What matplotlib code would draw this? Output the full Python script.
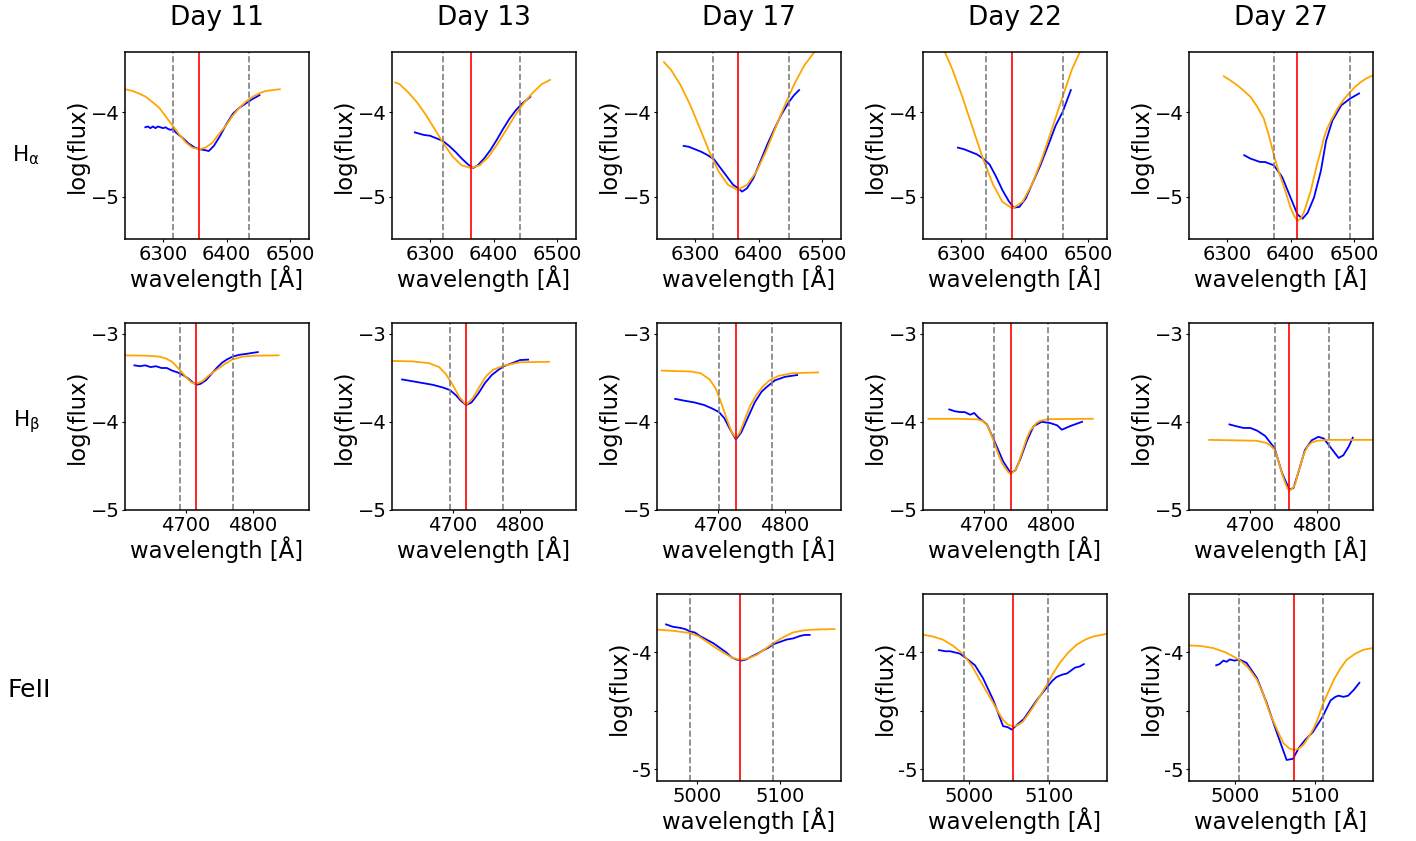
import matplotlib
matplotlib.use("Agg")
import matplotlib.pyplot as plt

# ---- H alpha row ----
ha_days = [11, 13, 17, 22, 27]
ha_centre = [6356, 6364, 6367, 6381, 6411]
ha_lo = [6315, 6321, 6328, 6340, 6374]
ha_hi = [6436, 6441, 6448, 6460, 6494]

ha11_obs_wl = [6272, 6276, 6280, 6284, 6288, 6292, 6296, 6300, 6304, 6308, 6312, 6316, 6320, 6330, 6340, 6350, 6358, 6366, 6372, 6380, 6390, 6400, 6410, 6420, 6430, 6440, 6452]
ha11_obs = [-4.18, -4.17, -4.19, -4.17, -4.19, -4.17, -4.18, -4.19, -4.18, -4.20, -4.21, -4.20, -4.24, -4.30, -4.37, -4.42, -4.44, -4.45, -4.46, -4.40, -4.28, -4.14, -4.02, -3.95, -3.90, -3.85, -3.80]
ha11_fit_wl = [6240, 6252, 6262, 6273, 6283, 6294, 6304, 6315, 6325, 6336, 6346, 6357, 6367, 6378, 6388, 6399, 6409, 6420, 6430, 6441, 6451, 6462, 6484]
ha11_fit = [-3.73, -3.75, -3.78, -3.82, -3.88, -3.95, -4.05, -4.16, -4.26, -4.36, -4.42, -4.44, -4.42, -4.36, -4.26, -4.16, -4.05, -3.95, -3.88, -3.82, -3.78, -3.75, -3.73]

ha13_obs_wl = [6276, 6290, 6300, 6310, 6320, 6330, 6340, 6350, 6360, 6368, 6375, 6385, 6395, 6405, 6415, 6425, 6435, 6445, 6458]
ha13_obs = [-4.24, -4.27, -4.28, -4.31, -4.34, -4.40, -4.47, -4.55, -4.62, -4.66, -4.63, -4.55, -4.45, -4.33, -4.20, -4.08, -3.98, -3.90, -3.82]
ha13_fit_wl = [6245, 6252, 6266, 6280, 6294, 6308, 6322, 6336, 6350, 6364, 6378, 6392, 6406, 6420, 6434, 6448, 6462, 6476, 6489]
ha13_fit = [-3.65, -3.67, -3.77, -3.89, -4.04, -4.21, -4.38, -4.53, -4.63, -4.66, -4.63, -4.53, -4.38, -4.21, -4.04, -3.89, -3.77, -3.67, -3.62]

ha17_obs_wl = [6282, 6290, 6300, 6310, 6320, 6330, 6340, 6350, 6360, 6368, 6374, 6382, 6392, 6402, 6414, 6425, 6436, 6448, 6456, 6464]
ha17_obs = [-4.40, -4.41, -4.44, -4.47, -4.51, -4.56, -4.66, -4.76, -4.86, -4.90, -4.94, -4.90, -4.78, -4.60, -4.38, -4.20, -4.03, -3.88, -3.80, -3.74]
ha17_fit_wl = [6251, 6262, 6277, 6292, 6307, 6322, 6337, 6352, 6367, 6382, 6397, 6412, 6427, 6442, 6457, 6472, 6487, 6502]
ha17_fit = [-3.41, -3.50, -3.68, -3.91, -4.18, -4.46, -4.70, -4.86, -4.92, -4.86, -4.70, -4.46, -4.18, -3.91, -3.66, -3.45, -3.30, -3.20]

ha22_obs_wl = [6295, 6305, 6315, 6325, 6335, 6345, 6355, 6365, 6375, 6383, 6392, 6402, 6412, 6425, 6437, 6449, 6460, 6473]
ha22_obs = [-4.42, -4.44, -4.47, -4.50, -4.55, -4.62, -4.76, -4.92, -5.05, -5.13, -5.12, -5.02, -4.85, -4.63, -4.40, -4.16, -4.00, -3.74]
ha22_fit_wl = [6255, 6271, 6286, 6302, 6318, 6334, 6350, 6365, 6381, 6397, 6412, 6428, 6444, 6460, 6475, 6491, 6507]
ha22_fit = [-3.03, -3.23, -3.49, -3.82, -4.18, -4.54, -4.85, -5.06, -5.14, -5.06, -4.85, -4.54, -4.18, -3.82, -3.49, -3.23, -3.03]

ha27_obs_wl = [6327, 6337, 6352, 6360, 6374, 6387, 6400, 6411, 6419, 6427, 6437, 6448, 6456, 6466, 6480, 6494, 6508]
ha27_obs = [-4.51, -4.55, -4.59, -4.59, -4.63, -4.77, -5.01, -5.21, -5.26, -5.19, -5.01, -4.69, -4.34, -4.10, -3.92, -3.84, -3.78]
ha27_fit_wl = [6295, 6305, 6316, 6326, 6337, 6347, 6358, 6366, 6374, 6382, 6390, 6400, 6406, 6411, 6416, 6421, 6426, 6432, 6437, 6442, 6448, 6453, 6458, 6464, 6469, 6474, 6484, 6494, 6502, 6511, 6520, 6530]
ha27_fit = [-3.577, -3.625, -3.683, -3.745, -3.822, -3.93, -4.079, -4.28, -4.514, -4.72, -4.89, -5.127, -5.23, -5.285, -5.26, -5.186, -5.07, -4.929, -4.77, -4.612, -4.45, -4.296, -4.19, -4.098, -4.03, -3.96, -3.85, -3.763, -3.70, -3.644, -3.60, -3.565]

# ---- H beta row ----
hb_centre = [4715, 4720, 4727, 4740, 4759]
hb_lo = [4692, 4696, 4702, 4716, 4737]
hb_hi = [4770, 4775, 4781, 4795, 4817]

hb11_obs_wl = [4624, 4632, 4640, 4648, 4656, 4664, 4672, 4680, 4688, 4696, 4704, 4710, 4716, 4722, 4730, 4738, 4746, 4754, 4762, 4770, 4780, 4790, 4798, 4807]
hb11_obs = [-3.36, -3.37, -3.36, -3.38, -3.37, -3.39, -3.39, -3.42, -3.44, -3.47, -3.51, -3.55, -3.58, -3.57, -3.53, -3.46, -3.39, -3.33, -3.29, -3.26, -3.24, -3.23, -3.22, -3.21]
hb11_fit_wl = [4610, 4640, 4660, 4670, 4680, 4690, 4700, 4708, 4715, 4725, 4735, 4746, 4757, 4769, 4785, 4805, 4838]
hb11_fit = [-3.247, -3.25, -3.26, -3.28, -3.32, -3.40, -3.49, -3.55, -3.572, -3.54, -3.47, -3.41, -3.35, -3.295, -3.26, -3.25, -3.247]

hb13_obs_wl = [4625, 4640, 4655, 4670, 4685, 4696, 4705, 4712, 4720, 4728, 4738, 4748, 4758, 4768, 4776, 4790, 4800, 4812]
hb13_obs = [-3.52, -3.54, -3.56, -3.58, -3.61, -3.64, -3.70, -3.76, -3.81, -3.78, -3.68, -3.56, -3.47, -3.41, -3.37, -3.33, -3.30, -3.295]
hb13_fit_wl = [4610, 4640, 4665, 4680, 4690, 4700, 4710, 4720, 4730, 4740, 4750, 4760, 4775, 4800, 4843]
hb13_fit = [-3.31, -3.315, -3.335, -3.38, -3.46, -3.58, -3.72, -3.807, -3.73, -3.60, -3.48, -3.41, -3.365, -3.325, -3.32]

hb17_obs_wl = [4637, 4650, 4665, 4680, 4692, 4702, 4710, 4718, 4727, 4735, 4745, 4755, 4765, 4772, 4785, 4800, 4818]
hb17_obs = [-3.74, -3.76, -3.78, -3.81, -3.85, -3.89, -3.96, -4.08, -4.20, -4.12, -3.95, -3.78, -3.66, -3.61, -3.53, -3.49, -3.47]
hb17_fit_wl = [4617, 4660, 4675, 4688, 4697, 4706, 4714, 4721, 4727, 4733, 4740, 4748, 4757, 4767, 4777, 4790, 4810, 4849]
hb17_fit = [-3.42, -3.43, -3.45, -3.52, -3.62, -3.80, -3.98, -4.12, -4.18, -4.12, -3.98, -3.82, -3.70, -3.60, -3.53, -3.48, -3.45, -3.44]

hb22_obs_wl = [4649, 4657, 4665, 4672, 4680, 4686, 4692, 4705, 4716, 4729, 4740, 4747, 4754, 4764, 4774, 4786, 4799, 4809, 4816, 4828, 4846]
hb22_obs = [-3.86, -3.88, -3.89, -3.89, -3.92, -3.90, -3.95, -4.03, -4.22, -4.45, -4.58, -4.55, -4.43, -4.22, -4.05, -4.00, -4.015, -4.04, -4.09, -4.05, -4.00]
hb22_fit_wl = [4618, 4660, 4690, 4698, 4705, 4710, 4716, 4720, 4724, 4729, 4734, 4737, 4740, 4743, 4747, 4751, 4754, 4759, 4764, 4769, 4774, 4779, 4784, 4795, 4862]
hb22_fit = [-3.966, -3.966, -3.972, -3.99, -4.034, -4.12, -4.242, -4.33, -4.413, -4.49, -4.545, -4.575, -4.591, -4.575, -4.545, -4.49, -4.413, -4.30, -4.185, -4.10, -4.053, -4.01, -3.989, -3.970, -3.966]

hb27_obs_wl = [4670, 4680, 4691, 4701, 4711, 4723, 4737, 4748, 4759, 4765, 4772, 4782, 4792, 4802, 4810, 4817, 4825, 4832, 4839, 4847, 4853]
hb27_obs = [-4.03, -4.05, -4.07, -4.07, -4.10, -4.16, -4.30, -4.58, -4.77, -4.75, -4.58, -4.32, -4.21, -4.17, -4.19, -4.26, -4.34, -4.41, -4.38, -4.28, -4.18]
hb27_fit_wl = [4640, 4710, 4725, 4731, 4737, 4741, 4745, 4749, 4753, 4756, 4759, 4762, 4765, 4768, 4771, 4775, 4778, 4782, 4787, 4792, 4800, 4817, 4882]
hb27_fit = [-4.205, -4.215, -4.24, -4.27, -4.318, -4.40, -4.508, -4.61, -4.697, -4.755, -4.78, -4.765, -4.74, -4.697, -4.60, -4.508, -4.42, -4.337, -4.27, -4.235, -4.215, -4.205, -4.205]

# ---- Fe II row (days 17, 22, 27) ----
fe_centre = [5052, 5055, 5073]
fe_lo = [4991, 4993, 5005]
fe_hi = [5092, 5098, 5109]
fe_xlim = [(4951, 5174), (4942, 5172), (4942, 5172)]

fe17_obs_wl = [4962, 4970, 4979, 4985, 4991, 4997, 5003, 5011, 5019, 5027, 5035, 5041, 5047, 5053, 5059, 5067, 5073, 5080, 5086, 5092, 5100, 5108, 5116, 5124, 5130, 5136]
fe17_obs = [-3.76, -3.78, -3.79, -3.80, -3.82, -3.83, -3.86, -3.89, -3.92, -3.96, -4.00, -4.04, -4.06, -4.07, -4.06, -4.03, -4.01, -3.98, -3.96, -3.93, -3.91, -3.89, -3.88, -3.86, -3.85, -3.85]
fe17_fit_wl = [4951, 4971, 4991, 5001, 5011, 5021, 5031, 5042, 5052, 5062, 5072, 5082, 5092, 5104, 5116, 5128, 5140, 5166]
fe17_fit = [-3.805, -3.815, -3.834, -3.86, -3.906, -3.955, -4.0, -4.045, -4.063, -4.05, -4.02, -3.97, -3.92, -3.87, -3.829, -3.812, -3.805, -3.80]

fe22_obs_wl = [4962, 4970, 4976, 4982, 4988, 4996, 5007, 5017, 5030, 5042, 5048, 5053, 5061, 5068, 5074, 5084, 5092, 5098, 5104, 5109, 5116, 5122, 5128, 5132, 5138, 5143]
fe22_obs = [-3.98, -3.99, -3.99, -4.00, -4.01, -4.05, -4.11, -4.22, -4.41, -4.63, -4.64, -4.66, -4.61, -4.57, -4.51, -4.41, -4.34, -4.29, -4.24, -4.21, -4.19, -4.18, -4.15, -4.13, -4.12, -4.10]
fe22_fit_wl = [4942, 4955, 4967, 4980, 4993, 5003, 5013, 5021, 5030, 5036, 5042, 5048, 5055, 5061, 5067, 5073, 5080, 5089, 5098, 5105, 5113, 5123, 5134, 5145, 5155, 5171]
fe22_fit = [-3.848, -3.865, -3.891, -3.945, -4.02, -4.115, -4.234, -4.33, -4.434, -4.51, -4.577, -4.617, -4.634, -4.62, -4.591, -4.535, -4.463, -4.365, -4.262, -4.175, -4.09, -4.005, -3.934, -3.89, -3.863, -3.842]

fe27_obs_wl = [4976, 4980, 4985, 4989, 4993, 4999, 5005, 5014, 5027, 5039, 5052, 5064, 5072, 5079, 5087, 5097, 5109, 5119, 5125, 5129, 5135, 5141, 5148, 5155]
fe27_obs = [-4.11, -4.10, -4.07, -4.08, -4.06, -4.07, -4.06, -4.09, -4.22, -4.43, -4.69, -4.92, -4.91, -4.82, -4.75, -4.68, -4.55, -4.41, -4.38, -4.37, -4.38, -4.37, -4.32, -4.26]
fe27_fit_wl = [4942, 4957, 4972, 4988, 5005, 5016, 5027, 5035, 5043, 5052, 5060, 5067, 5073, 5079, 5085, 5091, 5098, 5104, 5109, 5116, 5123, 5131, 5139, 5150, 5160, 5172]
fe27_fit = [-3.94, -3.945, -3.962, -4.0, -4.063, -4.13, -4.234, -4.36, -4.519, -4.66, -4.776, -4.82, -4.834, -4.825, -4.79, -4.73, -4.648, -4.55, -4.448, -4.34, -4.234, -4.14, -4.063, -4.01, -3.977, -3.962]

ha_obs = [(ha11_obs_wl, ha11_obs), (ha13_obs_wl, ha13_obs), (ha17_obs_wl, ha17_obs), (ha22_obs_wl, ha22_obs), (ha27_obs_wl, ha27_obs)]
ha_fit = [(ha11_fit_wl, ha11_fit), (ha13_fit_wl, ha13_fit), (ha17_fit_wl, ha17_fit), (ha22_fit_wl, ha22_fit), (ha27_fit_wl, ha27_fit)]
hb_obs = [(hb11_obs_wl, hb11_obs), (hb13_obs_wl, hb13_obs), (hb17_obs_wl, hb17_obs), (hb22_obs_wl, hb22_obs), (hb27_obs_wl, hb27_obs)]
hb_fit = [(hb11_fit_wl, hb11_fit), (hb13_fit_wl, hb13_fit), (hb17_fit_wl, hb17_fit), (hb22_fit_wl, hb22_fit), (hb27_fit_wl, hb27_fit)]
fe_obs = [(fe17_obs_wl, fe17_obs), (fe22_obs_wl, fe22_obs), (fe27_obs_wl, fe27_obs)]
fe_fit = [(fe17_fit_wl, fe17_fit), (fe22_fit_wl, fe22_fit), (fe27_fit_wl, fe27_fit)]

W, H = 1416, 841
fig = plt.figure(figsize=(W / 100, H / 100), dpi=100)

col_left = [125, 392, 657, 923, 1189]
row_top = [52, 323, 594]
aw, ah = 184, 187


def make_ax(col, row):
    l = col_left[col] / W
    b = 1 - (row_top[row] + ah) / H
    ax = fig.add_axes([l, b, aw / W, ah / H])
    for s in ax.spines.values():
        s.set_linewidth(1.1)
    ax.tick_params(length=2, width=0.8, labelsize=14, pad=2)
    ax.set_xlabel('wavelength [Å]', fontsize=16.4, labelpad=1)
    ax.set_ylabel('log(flux)', fontsize=16.4, labelpad=1)
    return ax


def draw(ax, obs, fit, lo, c, hi):
    ax.plot(obs[0], obs[1], color='blue', lw=1.3)
    ax.plot(fit[0], fit[1], color='orange', lw=1.3)
    ax.axvline(lo, color='grey', ls='--', lw=1.2)
    ax.axvline(hi, color='grey', ls='--', lw=1.2)
    ax.axvline(c, color='red', lw=1.2)


for i in range(5):
    ax = make_ax(i, 0)
    draw(ax, ha_obs[i], ha_fit[i], ha_lo[i], ha_centre[i], ha_hi[i])
    ax.set_xlim(6240, 6530)
    ax.set_ylim(-5.5, -3.29)
    ax.set_xticks([6300, 6400, 6500])
    ax.set_yticks([-5, -4])
    fig.text((col_left[i] + aw / 2) / W, 1 - 18 / H, 'Day %d' % ha_days[i],
             fontsize=19, ha='center', va='center')

for i in range(5):
    ax = make_ax(i, 1)
    draw(ax, hb_obs[i], hb_fit[i], hb_lo[i], hb_centre[i], hb_hi[i])
    ax.set_xlim(4610, 4883)
    ax.set_ylim(-5, -2.88)
    ax.set_xticks([4700, 4800])
    ax.set_yticks([-5, -4, -3])

for j in range(3):
    ax = make_ax(j + 2, 2)
    draw(ax, fe_obs[j], fe_fit[j], fe_lo[j], fe_centre[j], fe_hi[j])
    ax.set_xlim(*fe_xlim[j])
    ax.set_ylim(-5.1, -3.5)
    ax.set_xticks([5000, 5100])
    ax.set_yticks([-5, -4.5, -4])
    ax.set_yticklabels(['-5', '', '-4'])

fig.text(12 / W, 1 - 155 / H, r'H$_\mathregular{α}$', fontsize=15.5, va='center', ha='left')
fig.text(13 / W, 1 - 422 / H, r'H$_\mathregular{β}$', fontsize=15.5, va='center', ha='left')
fig.text(8 / W, 1 - 690 / H, 'FeII', fontsize=18, va='center', ha='left')

fig.savefig('out.png', dpi=100)
